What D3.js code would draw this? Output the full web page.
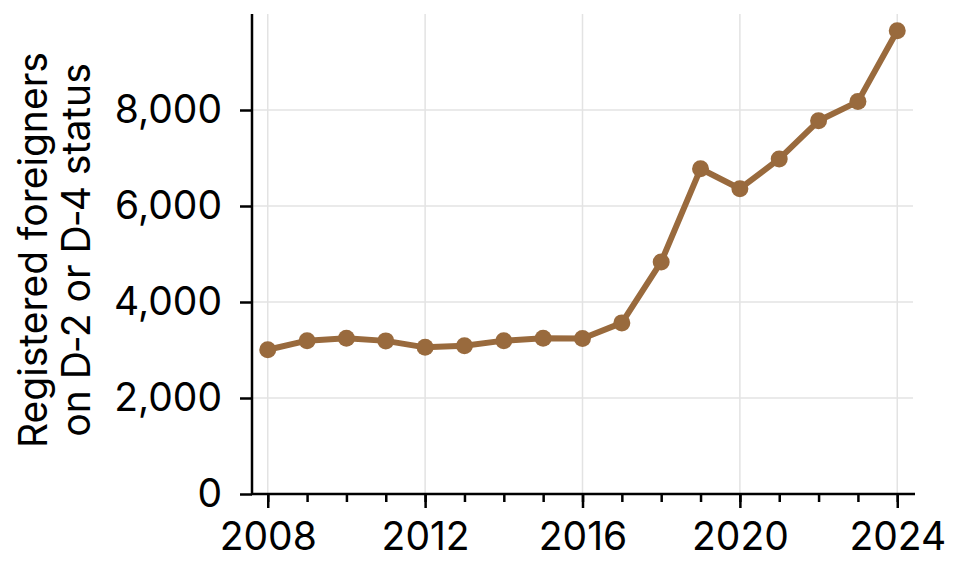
<!DOCTYPE html>
<html>
<head>
<meta charset="utf-8">
<script src="https://cdn.jsdelivr.net/npm/d3@7"></script>
<style>
  body { margin: 0; background: #fff; }
  svg { display: block; }
</style>
</head>
<body>
<div id="chart"></div>
<script>
const years = [2008, 2009, 2010, 2011, 2012, 2013, 2014, 2015, 2016,
  2017, 2018, 2019, 2020, 2021, 2022, 2023, 2024];
const registered = [3005, 3195, 3245, 3190, 3055, 3090, 3195, 3245, 3240,
  3565, 4835, 6775, 6360, 6980, 7775, 8175, 9650];
const xTicks = [2008, 2012, 2016, 2020, 2024];
const yTicks = [0, 2000, 4000, 6000, 8000];
const yLabel = ['Registered foreigners', 'on D\u20112 or D\u20114 status'];

const width = 962;
const height = 576;
const plot = {left: 252, right: 913, top: 14, bottom: 494};
const brown = '#996a3d';
const font = 'Inter, "Liberation Sans", Arial, sans-serif';

const svg = d3.select('#chart').append('svg')
  .attr('width', width)
  .attr('height', height);

const x = d3.scaleLinear().domain([2007.6, 2024.4]).range([plot.left, plot.right]);
const y = d3.scaleLinear().domain([0, 10000]).range([plot.bottom, plot.top]);

// grid
const grid = svg.append('g').attr('stroke', '#e3e3e3').attr('stroke-width', 1.5);
grid.selectAll('.vgrid')
  .data(xTicks)
  .enter().append('line')
  .attr('class', 'vgrid')
  .attr('x1', d => x(d)).attr('x2', d => x(d))
  .attr('y1', plot.top).attr('y2', plot.bottom);
grid.selectAll('.hgrid')
  .data(yTicks.filter(d => d > 0))
  .enter().append('line')
  .attr('class', 'hgrid')
  .attr('x1', plot.left).attr('x2', plot.right)
  .attr('y1', d => y(d)).attr('y2', d => y(d));

// minor x ticks
svg.append('g')
  .attr('transform', `translate(0,${plot.bottom})`)
  .call(d3.axisBottom(x).tickValues(years).tickSize(8).tickFormat(''))
  .call(g => g.select('.domain').remove())
  .call(g => g.selectAll('line').attr('stroke', '#000').attr('stroke-width', 2.5));

// major x ticks
const xAxis = svg.append('g')
  .attr('transform', `translate(0,${plot.bottom})`)
  .call(d3.axisBottom(x).tickValues(xTicks).tickSize(14).tickPadding(14).tickFormat(d3.format('d')));
xAxis.select('.domain').remove();
xAxis.selectAll('line').attr('stroke', '#000').attr('stroke-width', 2.5);
xAxis.selectAll('text')
  .attr('fill', '#000')
  .style('font-family', font)
  .style('font-size', '39px');

// y axis
const yAxis = svg.append('g')
  .attr('transform', `translate(${plot.left},0)`)
  .call(d3.axisLeft(y).tickValues(yTicks).tickSize(12).tickPadding(18).tickFormat(d3.format(',')));
yAxis.select('.domain').remove();
yAxis.selectAll('line').attr('stroke', '#000').attr('stroke-width', 2.5);
yAxis.selectAll('text')
  .attr('fill', '#000')
  .style('font-family', font)
  .style('font-size', '39px');

// spines
svg.append('line')
  .attr('x1', plot.left).attr('x2', plot.left)
  .attr('y1', plot.top).attr('y2', plot.bottom + 1)
  .attr('stroke', '#000').attr('stroke-width', 2.5);
svg.append('line')
  .attr('x1', plot.left - 1).attr('x2', plot.right + 2)
  .attr('y1', plot.bottom).attr('y2', plot.bottom)
  .attr('stroke', '#000').attr('stroke-width', 2.5);

// y label
svg.append('text')
  .attr('transform', 'translate(47,250) rotate(-90)')
  .style('font-family', font)
  .style('font-size', '39px')
  .attr('text-anchor', 'middle')
  .selectAll('tspan')
  .data(yLabel)
  .enter().append('tspan')
  .attr('x', 0)
  .attr('dy', (d, i) => i === 0 ? 0 : 43)
  .text(d => d);

// line + points
const points = years.map((yr, i) => ({year: yr, value: registered[i]}));

svg.append('path')
  .datum(points)
  .attr('fill', 'none')
  .attr('stroke', brown)
  .attr('stroke-width', 6)
  .attr('stroke-linejoin', 'round')
  .attr('d', d3.line().x(d => x(d.year)).y(d => y(d.value)));

svg.selectAll('.dot')
  .data(points)
  .enter().append('circle')
  .attr('class', 'dot')
  .attr('cx', d => x(d.year))
  .attr('cy', d => y(d.value))
  .attr('r', 8.5)
  .attr('fill', brown);
</script>
</body>
</html>
